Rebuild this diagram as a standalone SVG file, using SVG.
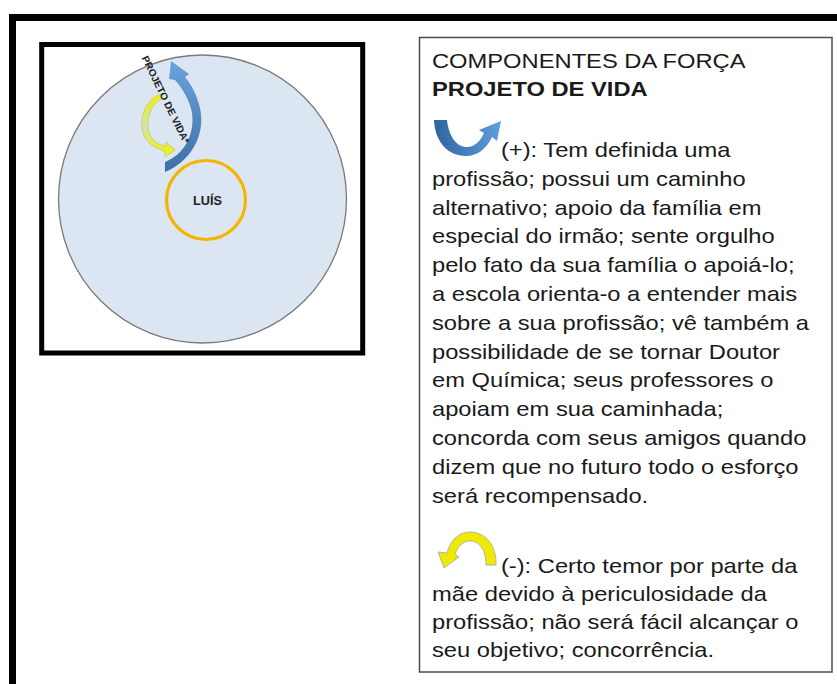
<svg xmlns="http://www.w3.org/2000/svg" width="837" height="684" viewBox="0 0 837 684">
<defs>
<style>
.t{font-family:"Liberation Sans",Arial,sans-serif;font-size:21px;fill:#1a1a1a}
.b{font-weight:bold}
.lbl{font-family:"Liberation Sans",Arial,sans-serif;font-weight:bold;fill:#222}
</style>
<linearGradient id="gBlue" x1="0" y1="1" x2="0" y2="0">
<stop offset="0" stop-color="#3f6fa6"/><stop offset="1" stop-color="#6aa3dc"/>
</linearGradient>
<linearGradient id="gBlueH" x1="0" y1="0" x2="1" y2="0">
<stop offset="0" stop-color="#2f64a0"/><stop offset="1" stop-color="#5f9fdc"/>
</linearGradient>
<linearGradient id="gYel" x1="0" y1="0" x2="0" y2="1">
<stop offset="0" stop-color="#f0f200"/><stop offset="0.5" stop-color="#d2e4a8"/><stop offset="1" stop-color="#f4f400"/>
</linearGradient>
</defs>
<rect width="837" height="684" fill="#fff"/>
<path d="M12.5,684 V17.5 H837" fill="none" stroke="#000" stroke-width="7"/>

<g id="diagram">
<rect x="41.7" y="44.5" width="321" height="308.5" fill="#fff" stroke="#000" stroke-width="5"/>
<g id="environment">
<circle cx="202.5" cy="199" r="144" fill="#dce6f2" stroke="#7a7a7a" stroke-width="1.3"/>
</g>
<g id="luis">
<circle cx="206" cy="200" r="39.5" fill="none" stroke="#f5b400" stroke-width="3.2"/>
<text class="lbl" x="207.5" y="205" font-size="13" text-anchor="middle" textLength="29" lengthAdjust="spacingAndGlyphs">LUÍS</text>
</g>
<g id="connectors">
<path d="M165,172 C190,162 206,136 200,108 C197,95 191,84 185,77 L189,74 L171,61 L169,79 L175,80 C183,89 190,101 192,113 C195,136 183,155 165,162 Z" fill="url(#gBlue)"/>
<path d="M162,94 C144,98 136,124 146,139 C151,146 158,149 165,151 L165,157 L175,150 L166,142 L166,146 C158,145 151,140 149,132 C146,120 150,104 162,99 Z" fill="url(#gYel)" stroke="#b8c070" stroke-width="0.6"/>
</g>
<text class="lbl" font-size="10" transform="translate(141.5,58) rotate(64)" textLength="96" lengthAdjust="spacingAndGlyphs">PROJETO DE VIDA*</text>
</g>

<g id="legend">
<rect x="419.5" y="37.5" width="412.5" height="634.5" fill="#fff" stroke="#4d4d4d" stroke-width="1.5"/>
<path d="M434,120 L447,120 C449,138 458,148 468,147 C476,146 481,140 484,133 L479,130 L501,121 L497,141 L492,137 C487,148 478,156 466,156 C448,156 435,142 434,120 Z" fill="url(#gBlueH)"/>
<path d="M496,565 C497,545 485,532 470,532 C458,532 450,541 447,553 L438,552 L444,568 L459,557 L455,554 C458,546 463,541 470,541 C480,541 486,551 486,565 Z" fill="#f0ea00" stroke="#8fb0b8" stroke-width="0.8"/>
<g transform="matrix(1.13,0,0,1,-56.16,0)">
<text class="t" x="432" y="68">COMPONENTES DA FORÇA</text>
<text class="t b" x="432" y="96">PROJETO DE VIDA</text>
<text class="t" x="493" y="157">(+): Tem definida uma</text>
<text class="t" x="432" y="185.8">profissão; possui um caminho</text>
<text class="t" x="432" y="214.6">alternativo; apoio da família em</text>
<text class="t" x="432" y="243.4">especial do irmão; sente orgulho</text>
<text class="t" x="432" y="272.2">pelo fato da sua família o apoiá-lo;</text>
<text class="t" x="432" y="301">a escola orienta-o a entender mais</text>
<text class="t" x="432" y="329.8">sobre a sua profissão; vê também a</text>
<text class="t" x="432" y="358.6">possibilidade de se tornar Doutor</text>
<text class="t" x="432" y="387.4">em Química; seus professores o</text>
<text class="t" x="432" y="416.2">apoiam em sua caminhada;</text>
<text class="t" x="432" y="445">concorda com seus amigos quando</text>
<text class="t" x="432" y="473.8">dizem que no futuro todo o esforço</text>
<text class="t" x="432" y="502.6">será recompensado.</text>
<text class="t" x="493" y="573">(-): Certo temor por parte da</text>
<text class="t" x="432" y="601">mãe devido à periculosidade da</text>
<text class="t" x="432" y="629">profissão; não será fácil alcançar o</text>
<text class="t" x="432" y="657">seu objetivo; concorrência.</text>
</g>
</g>
</svg>
